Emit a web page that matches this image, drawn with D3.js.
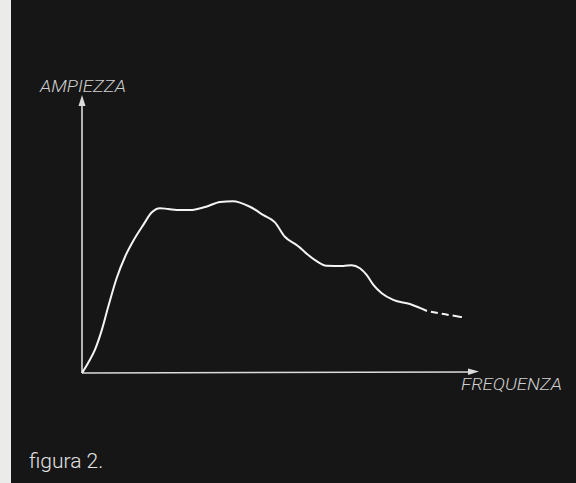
<!DOCTYPE html>
<meta charset='utf-8'>
<body style='margin:0;background:#161616;overflow:hidden'>
<script src='https://d3js.org/d3.v7.min.js'></script>
<script>
  const width = 576;
  const height = 483;

  // curve: frequency (0-100) vs amplitude (0-100)
  const freq = [0, 1.6, 3.3, 5.0, 6.6, 8.7, 10.9, 12.9, 15.4, 17.6, 19.6, 21.7, 24.7,
    27.2, 31.0, 34.8, 38.0, 42.3, 45.7, 48.6, 51.1, 54.1, 58.7, 61.6, 65.8, 67.9,
    70.0, 71.7, 73.4, 75.5, 78.4, 82.6, 86.9];
  const amp = [0, 3.8, 8.5, 15.5, 23.8, 34.0, 42.0, 47.5, 53.2, 57.8, 59.3, 59.0, 58.6,
    58.6, 59.7, 61.5, 61.8, 59.8, 56.8, 54.2, 49.0, 46.0, 40.6, 38.6, 38.5, 38.8,
    37.7, 35.3, 31.7, 28.7, 26.3, 24.8, 22.3];
  // dashed tail
  const tailFreq = [86.9, 91.5, 95.7];
  const tailAmp = [22.3, 21.1, 20.1];

  const labels = { y: 'AMPIEZZA', x: 'FREQUENZA', caption: 'figura 2.' };

  const origin = { x: 82, y: 373 };

  const x = d3.scaleLinear().domain([0, 100]).range([origin.x, 479]);
  const y = d3.scaleLinear().domain([0, 100]).range([origin.y, 95]);

  const svg = d3.select('body').append('svg')
    .attr('width', width)
    .attr('height', height)
    .style('display', 'block');

  svg.append('rect')
    .attr('width', width).attr('height', height)
    .attr('fill', '#161616');

  // pale strip on the left edge of the scan
  svg.append('rect')
    .attr('width', 11).attr('height', height)
    .attr('fill', '#ebebea');

  const axisColor = '#dcdcdc';

  // y axis with arrow
  svg.append('line')
    .attr('x1', x(0)).attr('x2', x(0))
    .attr('y1', y(0)).attr('y2', y(100) + 8)
    .attr('stroke', axisColor).attr('stroke-width', 1.6);
  svg.append('path')
    .attr('d', d3.line()([[x(0) - 3.5, y(100) + 11], [x(0), y(100)], [x(0) + 3.5, y(100) + 11]]))
    .attr('fill', axisColor);

  // x axis with arrow
  svg.append('line')
    .attr('x1', x(0)).attr('x2', x(100) - 8)
    .attr('y1', y(0)).attr('y2', y(0) - 1)
    .attr('stroke', axisColor).attr('stroke-width', 1.6);
  svg.append('path')
    .attr('d', d3.line()([[x(100) - 11, y(0) - 4.5], [x(100), y(0) - 1.5], [x(100) - 11, y(0) + 2]]))
    .attr('fill', axisColor);

  const line = d3.line()
    .x(d => x(d[0]))
    .y(d => y(d[1]))
    .curve(d3.curveMonotoneX);

  svg.append('path')
    .datum(freq.map((f, i) => [f, amp[i]]))
    .attr('d', line)
    .attr('fill', 'none')
    .attr('stroke', '#f4f4f4')
    .attr('stroke-width', 2);

  svg.append('path')
    .datum(tailFreq.map((f, i) => [f, tailAmp[i]]))
    .attr('d', line)
    .attr('fill', 'none')
    .attr('stroke', '#f4f4f4')
    .attr('stroke-width', 2)
    .attr('stroke-dasharray', '0 4 7 4 7 4 7');

  svg.append('text')
    .attr('x', 40).attr('y', 92)
    .attr('textLength', 86).attr('lengthAdjust', 'spacingAndGlyphs')
    .style('font', 'italic 300 17px Roboto, sans-serif')
    .attr('fill', '#cfcfcf')
    .text(labels.y);

  svg.append('text')
    .attr('x', 461).attr('y', 390)
    .attr('textLength', 101).attr('lengthAdjust', 'spacingAndGlyphs')
    .style('font', 'italic 300 17px Roboto, sans-serif')
    .attr('fill', '#cfcfcf')
    .text(labels.x);

  svg.append('text')
    .attr('x', 29).attr('y', 468)
    .style('font', '300 21px Roboto, sans-serif')
    .attr('fill', '#e2e2e2')
    .text(labels.caption);
</script>
